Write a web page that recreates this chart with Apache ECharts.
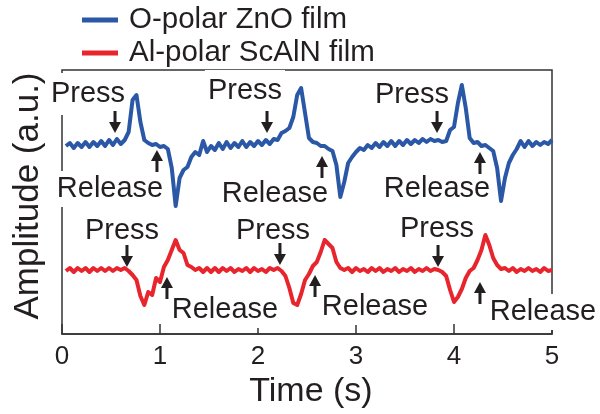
<!DOCTYPE html>
<html>
<head>
<meta charset="utf-8">
<script src="https://cdn.jsdelivr.net/npm/echarts@6/dist/echarts.min.js"></script>
<style>
  html, body { margin: 0; padding: 0; background: #fff; }
  #chart { width: 600px; height: 414px; }
</style>
</head>
<body>
<div id="chart"></div>
<script>
// sampling step of the traces (s); first sample at t = dt
const dt = 0.04;
const xTicks = [0, 1, 2, 3, 4, 5];

// O-polar ZnO film (blue), amplitude in a.u.
const znoValues = [
  188, 191, 186, 191, 187, 192, 187, 192, 188, 193,
  188, 194, 189, 195, 190, 194, 202, 234, 239, 212,
  194, 191, 189, 190, 187, 188, 185, 166, 128, 156,
  164, 167, 177, 182, 179, 193, 182, 188, 184, 191,
  185, 192, 186, 191, 187, 193, 187, 192, 188, 193,
  189, 194, 190, 195, 194, 201, 203, 206, 217, 239,
  246, 221, 196, 192, 191, 188, 188, 185, 183, 169,
  137, 152, 171, 177, 182, 186, 184, 189, 186, 191,
  187, 192, 188, 193, 188, 193, 189, 194, 190, 194,
  191, 195, 192, 195, 193, 194, 192, 193, 204, 207,
  231, 249, 226, 196, 191, 192, 188, 189, 186, 183,
  166, 133, 156, 171, 179, 185, 193, 187, 193, 188,
  192, 189, 192, 190, 194
];

// Al-polar ScAlN film (red), amplitude in a.u.
const scalnValues = [
  63, 66, 62, 66, 63, 66, 62, 66, 63, 66,
  63, 66, 63, 66, 64, 66, 63, 59, 54, 38,
  29, 42, 39, 56, 52, 67, 74, 84, 94, 84,
  81, 69, 67, 64, 66, 62, 66, 62, 66, 62,
  66, 63, 66, 62, 65, 63, 66, 62, 66, 63,
  65, 62, 66, 64, 66, 63, 58, 46, 31, 29,
  40, 54, 60, 68, 72, 82, 94, 90, 86, 72,
  66, 64, 66, 62, 66, 63, 65, 62, 66, 63,
  66, 62, 65, 63, 66, 62, 65, 63, 66, 62,
  65, 63, 66, 63, 65, 64, 62, 58, 44, 32,
  37, 45, 56, 63, 66, 74, 84, 99, 89, 76,
  69, 65, 66, 63, 66, 62, 65, 63, 66, 63,
  65, 62, 66, 63, 64
];

// annotations: label, text t, text a.u., arrow t, arrow tip a.u., direction
const notes = [
  ['Press', 0.265, 240, 0.541, 201, 'down'],
  ['Press', 1.867, 243, 2.092, 201, 'down'],
  ['Press', 3.571, 239, 3.827, 201, 'down'],
  ['Release', 0.490, 145, 0.969, 184, 'up'],
  ['Release', 2.173, 140, 2.653, 178, 'up'],
  ['Release', 3.827, 145, 4.265, 182, 'up'],
  ['Press', 0.612, 103, 0.663, 67, 'down'],
  ['Press', 2.153, 103, 2.224, 69, 'down'],
  ['Press', 3.827, 105, 3.837, 67, 'down'],
  ['Release', 1.663, 24, 1.071, 57, 'up'],
  ['Release', 3.194, 27, 2.582, 59, 'up'],
  ['Release', 4.908, 22, 4.265, 52, 'up']
];

const FONT = "'Liberation Sans', Arial, Helvetica, sans-serif";
const INK = '#231f20';

function toPairs(vals) {
  return vals.map((v, i) => [+((i + 1) * dt).toFixed(2), v]);
}

let myChart = echarts.init(document.getElementById('chart'));

let option = {
  animation: false,
  legend: {
    orient: 'vertical',
    left: 77,
    top: 0,
    icon: 'rect',
    itemWidth: 36,
    itemHeight: 5,
    itemGap: 3,
    textStyle: {
      fontFamily: FONT,
      fontSize: 29.5,
      lineHeight: 30,
      color: INK,
      padding: [0, 0, 0, 6]
    },
    data: ['O-polar ZnO film', 'Al-polar ScAlN film']
  },
  grid: {
    left: 62,
    right: 48,
    top: 70,
    bottom: 80,
    show: true,
    borderColor: '#333',
    borderWidth: 1.5,
    backgroundColor: 'transparent'
  },
  xAxis: {
    type: 'value',
    min: 0,
    max: 5,
    interval: 1,
    name: 'Time (s)',
    nameLocation: 'middle',
    nameGap: 41,
    nameTextStyle: { fontFamily: FONT, fontSize: 34, color: INK, padding: [0, 0, 0, 8] },
    axisLine: { lineStyle: { color: '#333', width: 1.5 } },
    axisTick: { inside: true, length: 10, lineStyle: { color: '#333', width: 1.5 } },
    axisLabel: {
      fontFamily: FONT,
      fontSize: 26,
      color: INK,
      margin: 10,
      formatter: (v) => (xTicks.includes(v) ? String(v) : '')
    },
    splitLine: { show: false }
  },
  yAxis: {
    type: 'value',
    min: 0,
    max: 264,
    name: 'Amplitude (a.u.)',
    nameLocation: 'middle',
    nameGap: 16,
    nameTextStyle: { fontFamily: FONT, fontSize: 35, color: INK, padding: [0, 0, 0, 12] },
    axisLine: { show: false },
    axisTick: { show: false },
    axisLabel: { show: false },
    splitLine: { show: false }
  },
  series: [
    {
      name: 'O-polar ZnO film',
      type: 'line',
      data: toPairs(znoValues),
      showSymbol: false,
      symbol: 'none',
      lineStyle: { color: '#2a57a6', width: 4, join: 'round' },
      itemStyle: { color: '#2a57a6' },
      z: 3
    },
    {
      name: 'Al-polar ScAlN film',
      type: 'line',
      data: toPairs(scalnValues),
      showSymbol: false,
      symbol: 'none',
      lineStyle: { color: '#e8242c', width: 4, join: 'round' },
      itemStyle: { color: '#e8242c' },
      z: 3
    }
  ]
};
myChart.setOption(option);

// annotations placed through the axes' own scales
let elements = [];
notes.forEach(([label, tt, tv, at, av, dir]) => {
  const tp = myChart.convertToPixel({ gridIndex: 0 }, [tt, tv]);
  const ap = myChart.convertToPixel({ gridIndex: 0 }, [at, av]);
  elements.push({
    type: 'text',
    x: tp[0],
    y: tp[1],
    z: 1,
    style: {
      text: label,
      font: '29px ' + FONT,
      fill: INK,
      align: 'center',
      verticalAlign: 'middle',
      backgroundColor: '#fff',
      padding: dir === 'down' ? [3, 3, 10, 3] : [5, 3, 2, 3]
    }
  });
  const s = dir === 'down' ? -1 : 1;
  const x = ap[0];
  const y = ap[1];
  elements.push({
    type: 'line',
    z: 4,
    shape: { x1: x, y1: y + s * 22, x2: x, y2: y + s * 8 },
    style: { stroke: INK, lineWidth: 3 }
  });
  elements.push({
    type: 'polygon',
    z: 4,
    shape: { points: [[x - 6, y + s * 11], [x + 6, y + s * 11], [x, y]] },
    style: { fill: INK }
  });
});
myChart.setOption({ graphic: { elements: elements } });
</script>
</body>
</html>
